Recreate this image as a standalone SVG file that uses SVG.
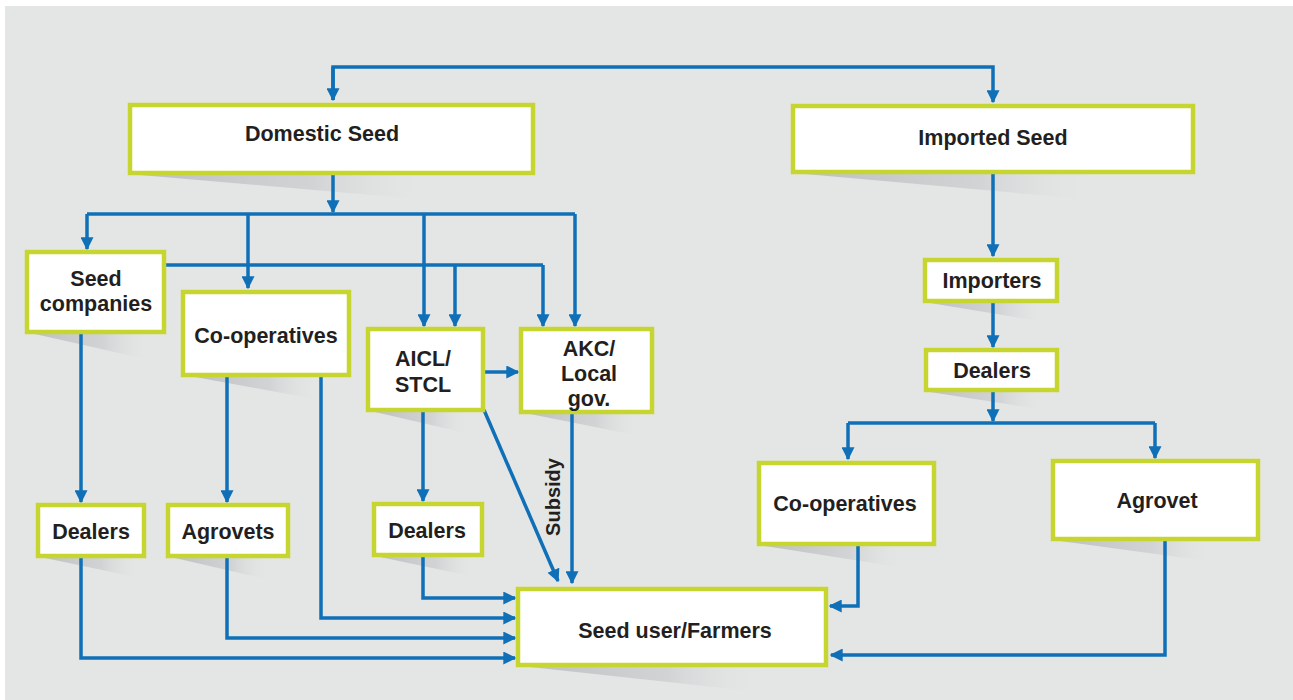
<svg xmlns="http://www.w3.org/2000/svg" width="1293" height="700" viewBox="0 0 1293 700">
<style>
.box{fill:#fff;stroke:#c6d530;stroke-width:4.5}
.sh{fill:url(#shg)}
.t{font-family:"Liberation Sans",Arial,sans-serif;font-weight:bold;font-size:21.5px;fill:#231f20;text-anchor:middle}
.c{fill:none;stroke:#0f70b7;stroke-width:3.5;marker-end:url(#ah)}
.cn{fill:none;stroke:#0f70b7;stroke-width:3.5}
</style>
<defs>
<linearGradient id="shg" x1="0" y1="0" x2="1" y2="0">
<stop offset="0" stop-color="#b9bbbf" stop-opacity="0.9"/>
<stop offset="0.6" stop-color="#c9cbce" stop-opacity="0.7"/>
<stop offset="1" stop-color="#e4e6e5" stop-opacity="0"/>
</linearGradient>
<marker id="ah" viewBox="0 0 10 10" refX="9" refY="5" markerWidth="13" markerHeight="13" markerUnits="userSpaceOnUse" orient="auto">
<path d="M0,0 L10,5 L0,10 z" fill="#0f70b7"/>
</marker>
</defs>
<rect x="0" y="0" width="1293" height="700" fill="#fff"/>
<rect x="5" y="6" width="1288" height="694" fill="#e4e6e5"/>

<g id="shadows">
<polygon class="sh" points="140,175 430,175 430,200"/>
<polygon class="sh" points="805,174 1095,174 1095,200"/>
<polygon class="sh" points="35,334 150,334 150,360"/>
<polygon class="sh" points="195,377 320,377 320,400"/>
<polygon class="sh" points="375,412 470,412 470,434"/>
<polygon class="sh" points="530,414 640,414 640,436"/>
<polygon class="sh" points="45,558 140,558 140,578"/>
<polygon class="sh" points="175,558 270,558 270,580"/>
<polygon class="sh" points="380,557 475,557 475,577"/>
<polygon class="sh" points="530,667 760,667 760,692"/>
<polygon class="sh" points="930,303 1045,303 1045,322"/>
<polygon class="sh" points="930,392 1045,392 1045,410"/>
<polygon class="sh" points="765,546 905,546 905,568"/>
<polygon class="sh" points="1060,541 1215,541 1215,562"/>
</g>

<g id="connectors">
<path class="c" d="M333,100 V67 H993 V102"/>
<path class="c" d="M333,67 V100"/>
<path class="c" d="M333,175 V212"/>
<path class="cn" d="M87,214 H575"/>
<path class="c" d="M87,214 V249"/>
<path class="c" d="M248,214 V288"/>
<path class="c" d="M424,214 V326"/>
<path class="c" d="M575,214 V326"/>
<path class="cn" d="M166,265 H543"/>
<path class="c" d="M455,265 V326"/>
<path class="c" d="M543,265 V326"/>
<path class="c" d="M485,372 H518"/>
<path class="c" d="M81,334 V502"/>
<path class="c" d="M81,558 V658 H515"/>
<path class="c" d="M227,377 V502"/>
<path class="c" d="M227,558 V638 H515"/>
<path class="c" d="M321,377 V618 H515"/>
<path class="c" d="M423,412 V501"/>
<path class="c" d="M423,557 V598 H515"/>
<path class="c" d="M484,410 L558,581"/>
<path class="c" d="M572,414 V583"/>
<path class="c" d="M993,174 V256"/>
<path class="c" d="M993,303 V347"/>
<path class="c" d="M993,392 V421"/>
<path class="cn" d="M848,423 H1155"/>
<path class="c" d="M848,423 V459"/>
<path class="c" d="M1155,423 V458"/>
<path class="c" d="M858,546 V606 H830"/>
<path class="c" d="M1165,541 V655 H831"/>
<text class="t" transform="translate(560,497) rotate(-90)" style="font-size:20px">Subsidy</text>
</g>

<g id="domestic"><rect class="box" x="130" y="105" width="403" height="68"/><text class="t" x="322" y="141">Domestic Seed</text></g>
<g id="imported"><rect class="box" x="793" y="106" width="400" height="66"/><text class="t" x="993" y="145">Imported Seed</text></g>
<g id="seedcompanies"><rect class="box" x="27" y="252" width="137" height="80"/><text class="t" x="96" y="286">Seed</text><text class="t" x="96" y="311">companies</text></g>
<g id="coops-left"><rect class="box" x="183" y="292" width="166" height="83"/><text class="t" x="266" y="343">Co-operatives</text></g>
<g id="aicl"><rect class="box" x="368" y="329" width="115" height="81"/><text class="t" x="423" y="366">AICL/</text><text class="t" x="423" y="392">STCL</text></g>
<g id="akc"><rect class="box" x="521" y="329" width="131" height="83"/><text class="t" x="589" y="356">AKC/</text><text class="t" x="589" y="381">Local</text><text class="t" x="589" y="406">gov.</text></g>
<g id="dealers-left"><rect class="box" x="38" y="505" width="106" height="51"/><text class="t" x="91" y="539">Dealers</text></g>
<g id="agrovets"><rect class="box" x="168" y="505" width="120" height="51"/><text class="t" x="228" y="539">Agrovets</text></g>
<g id="dealers-mid"><rect class="box" x="374" y="504" width="108" height="51"/><text class="t" x="427" y="538">Dealers</text></g>
<g id="farmers"><rect class="box" x="518" y="589" width="308" height="76"/><text class="t" x="675" y="638">Seed user/Farmers</text></g>
<g id="importers"><rect class="box" x="925" y="260" width="132" height="41"/><text class="t" x="992" y="288">Importers</text></g>
<g id="dealers-right"><rect class="box" x="926" y="350" width="131" height="40"/><text class="t" x="992" y="378">Dealers</text></g>
<g id="coops-right"><rect class="box" x="759" y="463" width="175" height="81"/><text class="t" x="845" y="511">Co-operatives</text></g>
<g id="agrovet"><rect class="box" x="1053" y="461" width="205" height="78"/><text class="t" x="1157" y="508">Agrovet</text></g>
</svg>
